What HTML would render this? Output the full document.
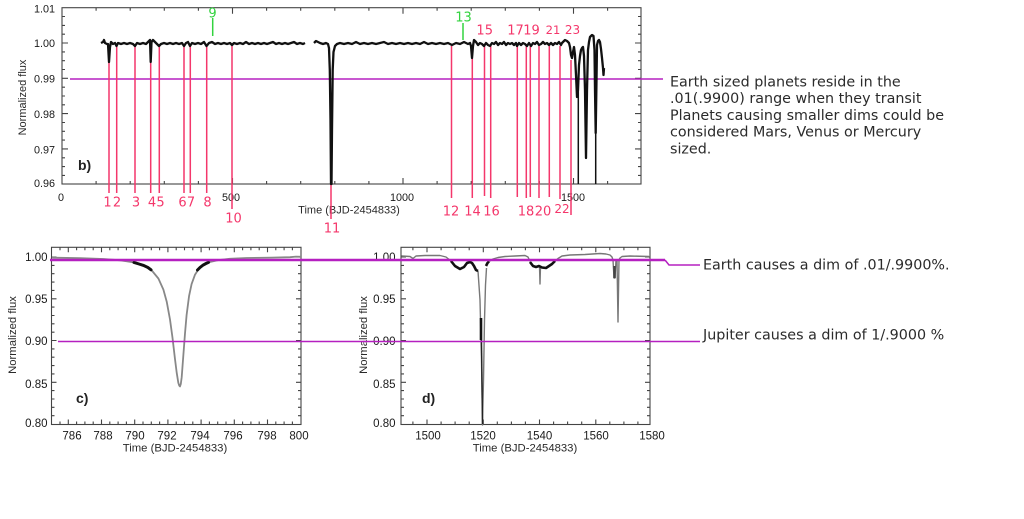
<!DOCTYPE html>
<html><head><meta charset="utf-8">
<style>
html,body{margin:0;padding:0;background:#fff;}
svg{display:block;}
</style></head>
<body>
<svg width="1024" height="519" viewBox="0 0 1024 519" xmlns="http://www.w3.org/2000/svg">
<rect width="1024" height="519" fill="#fff"/>

<!-- ================= TOP PANEL (b) ================= -->
<g fill="none" stroke="#444" stroke-width="1.1">
  <rect x="62" y="7.7" width="579" height="176.3"/>
  <path d="M96.1,184v-3M130.2,184v-3M164.3,184v-3M198.4,184v-3M232.5,184v-6M266.6,184v-3M300.7,184v-3M334.8,184v-3M368.9,184v-3M403,184v-6M437.1,184v-3M471.2,184v-3M505.3,184v-3M539.4,184v-3M573.5,184v-6M607.6,184v-3
  M96.1,7.7v3M130.2,7.7v3M164.3,7.7v3M198.4,7.7v3M232.5,7.7v6M266.6,7.7v3M300.7,7.7v3M334.8,7.7v3M368.9,7.7v3M403,7.7v6M437.1,7.7v3M471.2,7.7v3M505.3,7.7v3M539.4,7.7v3M573.5,7.7v6M607.6,7.7v3
  M62,16.5h3M62,25.4h3M62,34.2h3M62,43h6M62,51.9h3M62,60.7h3M62,69.5h3M62,78.3h6M62,87.2h3M62,96h3M62,104.8h3M62,113.6h6M62,122.5h3M62,131.3h3M62,140.1h3M62,148.9h6M62,157.8h3M62,166.6h3M62,175.4h3
  M641,16.5h-3M641,25.4h-3M641,34.2h-3M641,43h-6M641,51.9h-3M641,60.7h-3M641,69.5h-3M641,78.3h-6M641,87.2h-3M641,96h-3M641,104.8h-3M641,113.6h-6M641,122.5h-3M641,131.3h-3M641,140.1h-3M641,148.9h-6M641,157.8h-3M641,166.6h-3M641,175.4h-3"/>
</g>
<g font-family="Liberation Sans, sans-serif" font-size="10.8" fill="#1a1a1a">
  <g text-anchor="end">
    <text x="55" y="12.5">1.01</text>
    <text x="55" y="46.8">1.00</text>
    <text x="55" y="82.3">0.99</text>
    <text x="55" y="117.8">0.98</text>
    <text x="55" y="153.3">0.97</text>
    <text x="55" y="187">0.96</text>
  </g>
  <g text-anchor="middle">
    <text x="61" y="201">0</text>
    <text x="231" y="201">500</text>
    <text x="402" y="201">1000</text>
    <text x="573" y="201">1500</text>
  </g>
  <text x="349" y="213.5" text-anchor="middle" font-size="11" fill="#2a2a2a">Time (BJD-2454833)</text>
  <text transform="translate(26,97.5) rotate(-90)" text-anchor="middle" font-size="11" fill="#2a2a2a">Normalized flux</text>
</g>
<text x="78" y="170" font-family="Liberation Sans, sans-serif" font-weight="bold" font-size="14" fill="#222">b)</text>

<!-- magenta 0.99 line -->
<line x1="70" y1="79" x2="663" y2="79" stroke="#b520c0" stroke-width="1.4"/>

<!-- red marker lines -->
<g stroke="#f4376b" stroke-width="1.5">
  <line x1="109" y1="62" x2="109" y2="193"/>
  <line x1="116.7" y1="46" x2="116.7" y2="193"/>
  <line x1="135" y1="46" x2="135" y2="193"/>
  <line x1="150.7" y1="62" x2="150.7" y2="193"/>
  <line x1="159.3" y1="46" x2="159.3" y2="193"/>
  <line x1="184" y1="46" x2="184" y2="193"/>
  <line x1="190.3" y1="46" x2="190.3" y2="193"/>
  <line x1="206.7" y1="46" x2="206.7" y2="193"/>
  <line x1="232" y1="46" x2="232" y2="209"/>
  <line x1="331" y1="150" x2="331" y2="219"/>
  <line x1="451.5" y1="46" x2="451.5" y2="198"/>
  <line x1="472.3" y1="58" x2="472.3" y2="198"/>
  <line x1="484.5" y1="46" x2="484.5" y2="196"/>
  <line x1="490.7" y1="46" x2="490.7" y2="198"/>
  <line x1="517.3" y1="46" x2="517.3" y2="197"/>
  <line x1="526.3" y1="46" x2="526.3" y2="198"/>
  <line x1="530.3" y1="46" x2="530.3" y2="197"/>
  <line x1="539" y1="46" x2="539" y2="198"/>
  <line x1="549.3" y1="46" x2="549.3" y2="197"/>
  <line x1="560" y1="46" x2="560" y2="199"/>
  <line x1="571" y1="60" x2="571" y2="215"/>
</g>
<!-- green markers -->
<g stroke="#33d33f" stroke-width="1.5">
  <line x1="212.7" y1="18" x2="212.7" y2="36"/>
  <line x1="463" y1="23" x2="463" y2="40"/>
</g>

<!-- top panel light curve -->
<g fill="none" stroke="#111" stroke-width="2.3" stroke-linejoin="round">
  <path d="M101,43L103,42L104,40L105,43L107,44L108,44L109,62L110,47L111,42L113,44L115,43L116.5,46L118,43L121,44L124,43L127,44L130,43L133,44L135,46L137,43L140,44L143,43L146,44L148,42L149,41L150,40L150.7,62L151.5,42L153,40L155,42L157,44L159,46L161,44L164,43L167,44L170,43L173,44L176,43L179,44L182,43L184,46L186,43L188,42L190,46L192,43L195,44L198,43L201,44L204,42L206.5,46L209,43L212,42L215,44L218,43L221,44L224,43L227,44L230,43L232,45L234,43L237,44L240,43L243,44L246,42L249,44L252,43L255,44L258,43L261,44L264,43L267,44L270,43L273,42L276,44L279,43L282,44L285,43L288,44L291,43L294,42L297,44L300,43L303,44L305,43"/>
  <path d="M314,43L316,41L318,42L320,43L323,44L326,43L328,44L329,48L329.8,70L330.5,120L331,184L331.5,184L332,130L332.7,70L333.5,52L335,46L337,44L340,43L344,44L348,43L352,44L356,42L360,44L364,43L368,44L372,43L376,44L380,43L384,42L388,44L392,43L396,44L400,43L404,44L408,43L412,44L416,43L420,44L424,42L428,44L432,43L436,44L440,43L444,44L448,43L452,45L456,43L460,44L464,42L468,44L470,43L471,46L472,58L473,46L474,40L476,42L478,45L480,43L482,44L484,46L486,43L488,45L490,46L492,43L494,44L496,42L498,45L500,43L502,44L504,42L506,45L508,43L510,44L512,43L514,45L516,43L517,46L519,43L521,45L523,43L525,44L527,46L529,43L531,46L533,43L535,44L537,42L539,45L541,44L543,42L545,44L547,43L549,45L551,43L553,45L555,43L557,44L559,42L561,45L562,43L565,40L567,41L569,43L570,47L571,55L572,58L573,52L574,47L575,55L576,75L577,97L578,90L579,65L580,56L581,50L582,48L583,47L584,56L585,90L586,158L587,90L588,50L589,42L590,37L592,35L593.5,36L594.5,50L595,90L595.7,133L596.5,80L597,45L598,41L599,40L600,42L601,49L602,58L603,68L603.5,75L604,68"/>
</g>
<g stroke="#111" stroke-width="1.5">
  <line x1="578.3" y1="90" x2="578.3" y2="184"/>
  <line x1="595.7" y1="130" x2="595.7" y2="184"/>
</g>

<!-- red / green number labels -->
<g font-family="DejaVu Sans, sans-serif" font-size="13" fill="#f4376b" text-anchor="middle">
  <text x="107.5" y="206.5">1</text>
  <text x="117" y="206.5">2</text>
  <text x="136" y="206.5">3</text>
  <text x="152" y="206.5">4</text>
  <text x="160.5" y="206.5">5</text>
  <text x="182.5" y="206.5">6</text>
  <text x="191" y="206.5">7</text>
  <text x="207.5" y="206.5">8</text>
  <text x="233.5" y="222.5">10</text>
  <text x="332" y="232.5">11</text>
  <text x="451" y="215.5">12</text>
  <text x="472.5" y="215.5">14</text>
  <text x="491.5" y="215.5">16</text>
  <text x="526" y="215.5">18</text>
  <text x="543" y="215.5">20</text>
  <text x="562" y="213" font-size="12">22</text>
  <text x="484.7" y="34.5">15</text>
  <text x="515.5" y="34.5">17</text>
  <text x="531.5" y="34.5">19</text>
  <text x="553" y="34" font-size="11.5">21</text>
  <text x="572.5" y="34" font-size="12">23</text>
</g>
<g font-family="DejaVu Sans, sans-serif" font-size="13" fill="#33d33f" text-anchor="middle">
  <text x="212.5" y="17.5">9</text>
  <text x="463.5" y="21.5">13</text>
</g>

<!-- right annotation text -->
<g font-family="DejaVu Sans, sans-serif" font-size="14.3" fill="#2b2b2b">
  <text x="670" y="86.5">Earth sized planets reside in the</text>
  <text x="670" y="103.2">.01(.9900) range when they transit</text>
  <text x="670" y="119.9">Planets causing smaller dims could be</text>
  <text x="670" y="136.6">considered Mars, Venus or Mercury</text>
  <text x="670" y="153.3">sized.</text>
  <text x="703" y="269.3">Earth causes a dim of .01/.9900%.</text>
  <text x="703" y="339.3">Jupiter causes a dim of 1/.9000 %</text>
</g>

<!-- ================= PANEL c ================= -->
<g fill="none" stroke="#444" stroke-width="1.1">
  <rect x="51.5" y="247.3" width="249.5" height="177.2"/>
  <path d="M60,424.5v-3M68.3,424.5v-5M76.6,424.5v-3M84.9,424.5v-3M93.2,424.5v-3M101.5,424.5v-5M109.8,424.5v-3M118.1,424.5v-3M126.4,424.5v-3M134.7,424.5v-5M143,424.5v-3M151.3,424.5v-3M159.6,424.5v-3M167.9,424.5v-5M176.2,424.5v-3M184.5,424.5v-3M192.8,424.5v-3M201.1,424.5v-5M209.4,424.5v-3M217.7,424.5v-3M226,424.5v-3M234.3,424.5v-5M242.6,424.5v-3M250.9,424.5v-3M259.2,424.5v-3M267.5,424.5v-5M275.8,424.5v-3M284.1,424.5v-3M292.4,424.5v-3
  M60,247.3v3M68.3,247.3v5M76.6,247.3v3M84.9,247.3v3M93.2,247.3v3M101.5,247.3v5M109.8,247.3v3M118.1,247.3v3M126.4,247.3v3M134.7,247.3v5M143,247.3v3M151.3,247.3v3M159.6,247.3v3M167.9,247.3v5M176.2,247.3v3M184.5,247.3v3M192.8,247.3v3M201.1,247.3v5M209.4,247.3v3M217.7,247.3v3M226,247.3v3M234.3,247.3v5M242.6,247.3v3M250.9,247.3v3M259.2,247.3v3M267.5,247.3v5M275.8,247.3v3M284.1,247.3v3M292.4,247.3v3
  M51.5,257h5M51.5,265.4h3M51.5,273.7h3M51.5,282.1h3M51.5,290.4h3M51.5,298.8h5M51.5,307.1h3M51.5,315.5h3M51.5,323.8h3M51.5,332.2h3M51.5,340.5h5M51.5,348.9h3M51.5,357.2h3M51.5,365.6h3M51.5,373.9h3M51.5,382.3h5M51.5,390.6h3M51.5,399h3M51.5,407.3h3M51.5,415.7h3
  M301,257h-5M301,265.4h-3M301,273.7h-3M301,282.1h-3M301,290.4h-3M301,298.8h-5M301,307.1h-3M301,315.5h-3M301,323.8h-3M301,332.2h-3M301,340.5h-5M301,348.9h-3M301,357.2h-3M301,365.6h-3M301,373.9h-3M301,382.3h-5M301,390.6h-3M301,399h-3M301,407.3h-3M301,415.7h-3"/>
</g>
<g font-family="Liberation Sans, sans-serif" font-size="11.5" fill="#1a1a1a">
  <g text-anchor="end">
    <text x="47.5" y="261">1.00</text>
    <text x="47.5" y="303">0.95</text>
    <text x="47.5" y="345">0.90</text>
    <text x="47.5" y="388">0.85</text>
    <text x="47.5" y="427">0.80</text>
  </g>
  <g text-anchor="middle">
    <text x="72" y="439.5">786</text>
    <text x="103" y="439.5">788</text>
    <text x="135" y="439.5">790</text>
    <text x="167" y="439.5">792</text>
    <text x="200" y="439.5">794</text>
    <text x="233" y="439.5">796</text>
    <text x="267" y="439.5">798</text>
    <text x="299" y="439.5">800</text>
  </g>
  <text x="175" y="451.5" text-anchor="middle" font-size="11.3" fill="#2a2a2a">Time (BJD-2454833)</text>
  <text transform="translate(16,335) rotate(-90)" text-anchor="middle" font-size="11.3" fill="#2a2a2a">Normalized flux</text>
</g>
<text x="76" y="403" font-family="Liberation Sans, sans-serif" font-weight="bold" font-size="14" fill="#222">c)</text>

<path fill="none" stroke="#888" stroke-width="1.8" stroke-linejoin="round"
  d="M52.2,257.7L80.4,258.2L103.6,259L120.2,260.3L133.5,262.3L143.5,265.4L151.8,270.5L158.4,278.5L163.4,289.6L166.7,301.6L170,319.5L172.5,337.8L175,359.1L176.7,372.7L178.3,382.7L179.2,385.5L180,386.4L180.8,384L181.7,377.2L183.3,355.9L185,333.4L186.6,315L189.1,295.8L191.6,284.1L194.9,274.9L198.3,269.5L203.2,265L209.9,262L218.2,260.1L229.8,258.8L246.4,258L271.3,257.6L290,257.2L296,256.6L301,256.8"/>
<g fill="none" stroke="#111" stroke-width="3" stroke-linecap="round">
  <path d="M134,262.4L139,264L143.5,265.4L148,267.5L151,269.8"/>
  <path d="M197.5,270L200,267.5L203.2,265L206,263.5L208.5,262.4"/>
</g>

<!-- ================= PANEL d ================= -->
<g fill="none" stroke="#444" stroke-width="1.1">
  <rect x="401" y="247.3" width="249" height="177.2"/>
  <path d="M412.9,424.5v-3M427,424.5v-5M441.1,424.5v-3M455.1,424.5v-3M469.2,424.5v-3M483.3,424.5v-5M497.3,424.5v-3M511.4,424.5v-3M525.4,424.5v-3M539.5,424.5v-5M553.6,424.5v-3M567.6,424.5v-3M581.7,424.5v-3M595.8,424.5v-5M609.8,424.5v-3M623.9,424.5v-3M637.9,424.5v-3
  M412.9,247.3v3M427,247.3v5M441.1,247.3v3M455.1,247.3v3M469.2,247.3v3M483.3,247.3v5M497.3,247.3v3M511.4,247.3v3M525.4,247.3v3M539.5,247.3v5M553.6,247.3v3M567.6,247.3v3M581.7,247.3v3M595.8,247.3v5M609.8,247.3v3M623.9,247.3v3M637.9,247.3v3
  M401,257h5M401,265.4h3M401,273.7h3M401,282.1h3M401,290.4h3M401,298.8h5M401,307.1h3M401,315.5h3M401,323.8h3M401,332.2h3M401,340.5h5M401,348.9h3M401,357.2h3M401,365.6h3M401,373.9h3M401,382.3h5M401,390.6h3M401,399h3M401,407.3h3M401,415.7h3
  M650,257h-5M650,265.4h-3M650,273.7h-3M650,282.1h-3M650,290.4h-3M650,298.8h-5M650,307.1h-3M650,315.5h-3M650,323.8h-3M650,332.2h-3M650,340.5h-5M650,348.9h-3M650,357.2h-3M650,365.6h-3M650,373.9h-3M650,382.3h-5M650,390.6h-3M650,399h-3M650,407.3h-3M650,415.7h-3"/>
</g>
<g font-family="Liberation Sans, sans-serif" font-size="11.5" fill="#1a1a1a">
  <g text-anchor="end">
    <text x="395.5" y="261">1.00</text>
    <text x="395.5" y="303">0.95</text>
    <text x="395.5" y="345">0.90</text>
    <text x="395.5" y="388">0.85</text>
    <text x="395.5" y="427">0.80</text>
  </g>
  <g text-anchor="middle">
    <text x="428" y="439.5">1500</text>
    <text x="483" y="439.5">1520</text>
    <text x="539.5" y="439.5">1540</text>
    <text x="596" y="439.5">1560</text>
    <text x="652" y="439.5">1580</text>
  </g>
  <text x="525" y="451.5" text-anchor="middle" font-size="11.3" fill="#2a2a2a">Time (BJD-2454833)</text>
  <text transform="translate(367,335) rotate(-90)" text-anchor="middle" font-size="11.3" fill="#2a2a2a">Normalized flux</text>
</g>
<text x="422" y="403" font-family="Liberation Sans, sans-serif" font-weight="bold" font-size="14" fill="#222">d)</text>

<g fill="none" stroke="#777" stroke-width="1.4" stroke-linejoin="round">
  <path d="M401.5,256L410,256.5L413,258.5L416,256L425,255.5L440,255.5L446,257L451,261"/>
  <path d="M478,271L480,300L481.5,360L482.5,425L483.5,380L484.5,320L485.5,285L486.5,268"/>
  <path d="M489,261.5L493,259L498,257.5L505,256.5L515,256L525,255.5L528,257L530,261.5"/>
  <path d="M539.5,266L540,284L540.5,266"/>
  <path d="M555,261L558,258.5L562,256L570,255L585,254.5L600,253.5L606,254L610,255L612,257L613,260L614,278L615,278L616,260L617,260L618,322L619,260L620,258L622,256.5L630,256L649,256.5"/>
</g>
<g fill="none" stroke="#111" stroke-width="2.6" stroke-linejoin="round">
  <path d="M451,261L455,266L460,269L464,267L467,263L470,262L472,263L474,266L476,270L478,271"/>
  <path d="M486,266L487.5,263L489,261.5"/>
  <path d="M530,262L533,266L536,267L539,266L542,267.5L546,268L549,266L552,264L555,261"/>
  <path d="M481,318L481,340"/>
</g>
<path d="M481.5,340L482.5,424" stroke="#222" stroke-width="1.4"/>
<path d="M614.5,266L614.5,278" stroke="#444" stroke-width="2.5"/>

<!-- magenta lines across bottom panels -->
<path d="M50,260L665,260" stroke="#b520c0" stroke-width="2.6" fill="none"/>
<path d="M665,260L669,265L700,265" stroke="#b520c0" stroke-width="1.5" fill="none"/>
<path d="M58,341.5L700,341.5" stroke="#b520c0" stroke-width="1.5" fill="none"/>
</svg>
</body></html>
